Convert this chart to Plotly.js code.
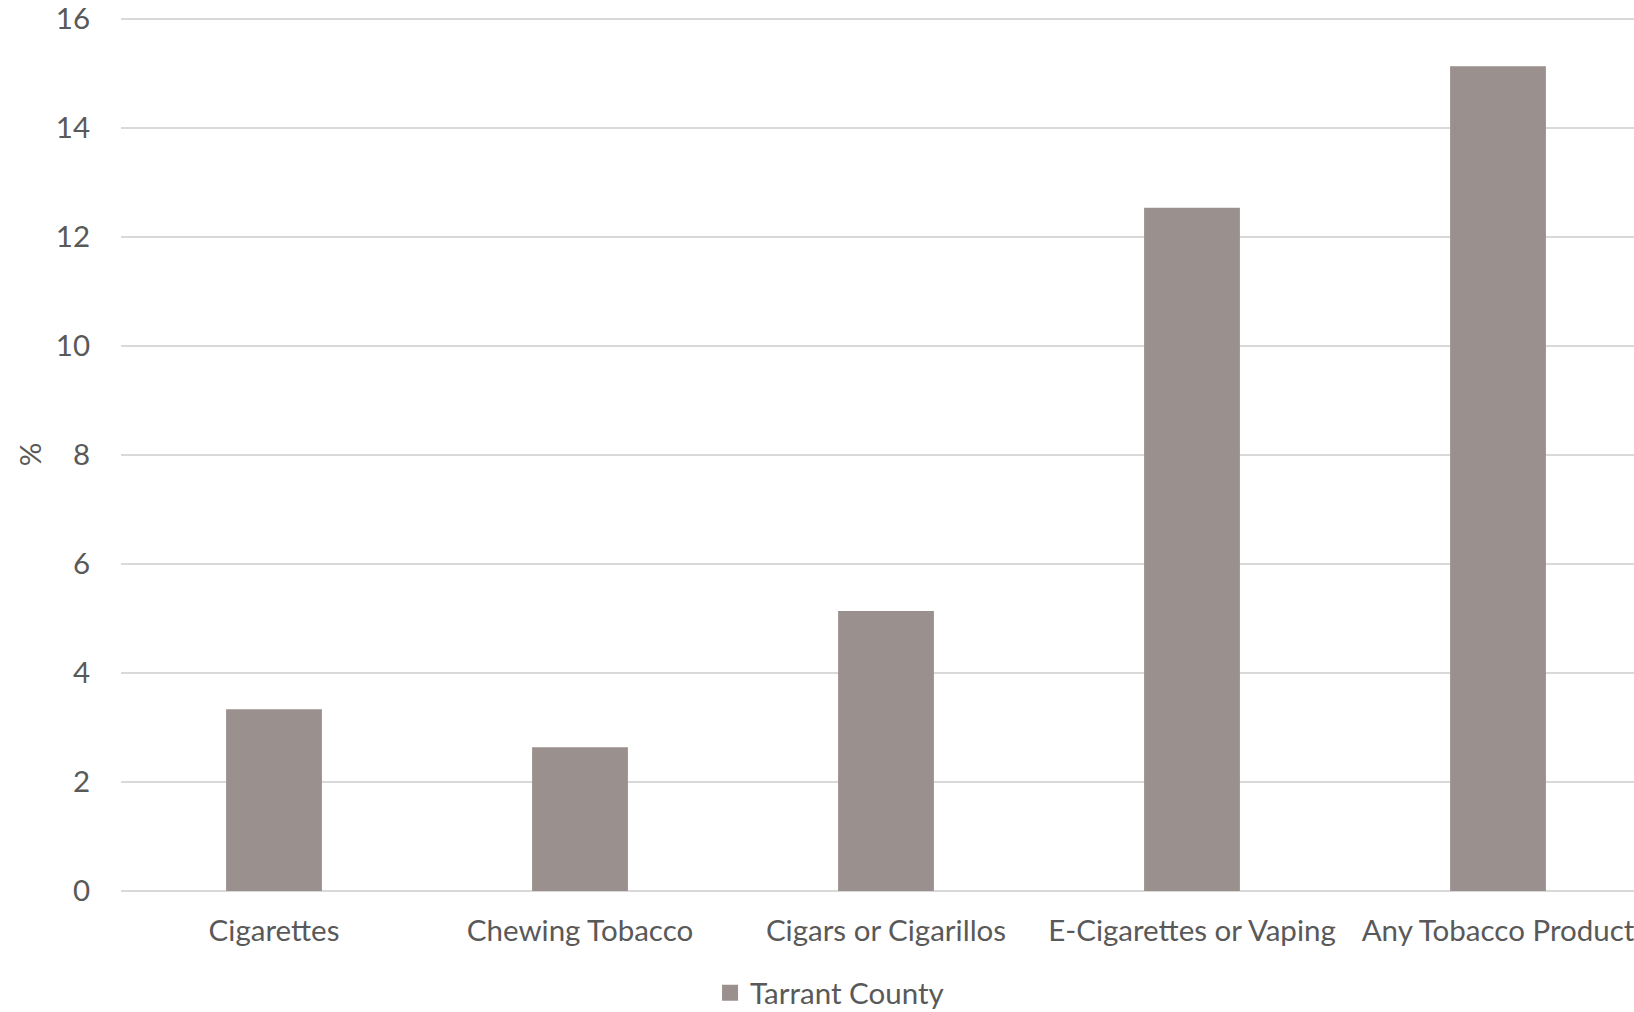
<!DOCTYPE html>
<html>
<head>
<meta charset="utf-8">
<script src="https://cdn.plot.ly/plotly-3.0.1.min.js"></script>
<style>
html,body{margin:0;padding:0;overflow:hidden;background:#fff;}
#chart{width:1660px;height:1012px;}
</style>
</head>
<body>
<div id="chart"></div>
<script>
const categories = ["Cigarettes", "Chewing Tobacco", "Cigars or Cigarillos", "E-Cigarettes or Vaping", "Any Tobacco Product"];
const tarrantCounty = [3.3, 2.6, 5.1, 12.5, 15.1];
const seriesName = "Tarrant County";
const yTicks = [0, 2, 4, 6, 8, 10, 12, 14, 16];

const fontFamily = "Lato, 'Open Sans', sans-serif";
const textColor = "#595959";
const fontSize = 29.5;

const trace = {
  type: "bar",
  x: categories,
  y: tarrantCounty,
  name: seriesName,
  marker: {color: "#9a908d", line: {color: "#9a908d", width: 4}},
  hoverinfo: "x+y"
};

const layout = {
  width: 1660,
  height: 1012,
  margin: {l: 121, r: 9, t: 18, b: 121, autoexpand: false},
  paper_bgcolor: "#ffffff",
  plot_bgcolor: "#ffffff",
  bargap: 0.7,
  font: {family: fontFamily, color: textColor, size: fontSize},
  showlegend: true,
  legend: {
    orientation: "h",
    x: 0.385, xanchor: "left",
    y: -0.117, yanchor: "middle",
    font: {family: fontFamily, color: textColor, size: fontSize}
  },
  xaxis: {
    type: "category",
    range: [-0.5, 4.5],
    automargin: false,
    showgrid: false,
    zeroline: false,
    showline: false,
    ticks: "outside",
    ticklen: 14,
    tickcolor: "rgba(0,0,0,0)",
    ticklabeloverflow: "allow",
    tickfont: {family: fontFamily, color: textColor, size: fontSize}
  },
  yaxis: {
    range: [0, 16.02],
    automargin: false,
    tickvals: yTicks,
    ticktext: yTicks.map(String),
    showgrid: true,
    gridcolor: "#d9d9d9",
    gridwidth: 2,
    zeroline: true,
    zerolinecolor: "#d9d9d9",
    zerolinewidth: 2,
    showline: false,
    ticks: "outside",
    ticklen: 24,
    tickcolor: "rgba(0,0,0,0)",
    ticklabeloverflow: "allow",
    tickfont: {family: fontFamily, color: textColor, size: fontSize},
    title: {text: "%", font: {family: fontFamily, color: textColor, size: fontSize}, standoff: 5}
  }
};

Plotly.newPlot("chart", [trace], layout, {displayModeBar: false, responsive: false});
</script>
</body>
</html>
